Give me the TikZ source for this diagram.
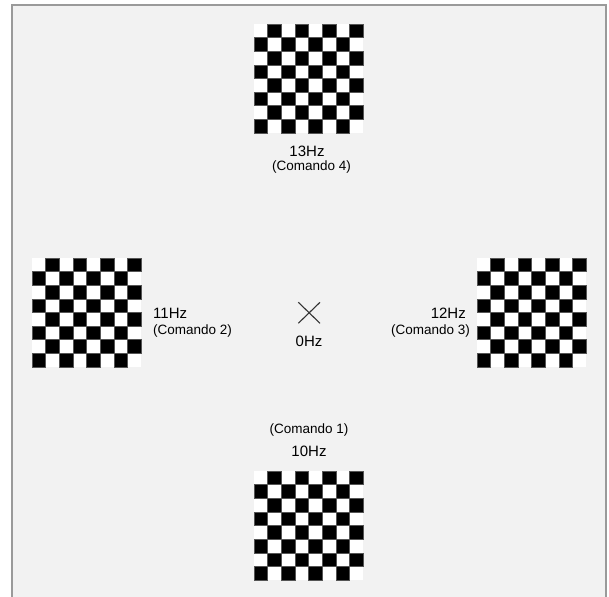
\documentclass[tikz,border=0pt]{standalone}
\usepackage{fontspec}
\setmainfont{Liberation Sans}
\definecolor{panel}{HTML}{F2F2F2}
\definecolor{panelline}{HTML}{9A9A9A}
\definecolor{cellline}{HTML}{555555}
\tikzset{
  checker/.pic={
    \fill[white] (0,0) rectangle (109,109);
    \foreach \i in {0,...,7}{
      \foreach \j in {0,...,7}{
        \pgfmathtruncatemacro\pp{mod(\i+\j,2)}
        \ifnum\pp=0
          \filldraw[fill=black,draw=cellline,line width=0.5pt]
            (\i*13.625,\j*13.625) rectangle ++(13.625,13.625);
        \fi
      }
    }
  },
  hz/.style={font=\fontsize{15}{18}\selectfont, inner sep=0pt},
  cmd/.style={font=\fontsize{13.5}{16}\selectfont, inner sep=0pt},
  crossline/.style={draw=black!80, line width=1.1pt}
}
\begin{document}
\begin{tikzpicture}[x=1pt,y=1pt]
\useasboundingbox (0,0) rectangle (609,596);
\fill[white] (0,0) rectangle (609,596);
\filldraw[fill=panel,draw=panelline,line width=1.6pt] (12,-5) rectangle (606,591);

\pic (topboard) at (254,463) {checker};
\pic (leftboard) at (32,229) {checker};
\pic (rightboard) at (477,229) {checker};
\pic (bottomboard) at (254,16) {checker};

\node[hz, anchor=base] (t13) at (307,439) {13Hz};
\node[cmd, anchor=base] (c4) at (311.5,425) {(Comando 4)};

\node[hz, anchor=base west] (t11) at (153,277) {11Hz};
\node[cmd, anchor=base west] (c2) at (153,261.5) {(Comando 2)};

\node[hz, anchor=base east] (t12) at (466,277) {12Hz};
\node[cmd, anchor=base east] (c3) at (470,261.5) {(Comando 3)};

\coordinate (x1) at (298.3,293.7);
\coordinate (x2) at (320,272.7);
\coordinate (x3) at (298.3,272.7);
\coordinate (x4) at (320,293.7);
\draw[crossline] (x1) -- (x2);
\draw[crossline] (x3) -- (x4);
\node[hz, anchor=base] (t0) at (309,249.3) {0Hz};

\node[cmd, anchor=base] (c1) at (309,162.7) {(Comando 1)};
\node[hz, anchor=base] (t10) at (309,139.3) {10Hz};
\end{tikzpicture}
\end{document}
